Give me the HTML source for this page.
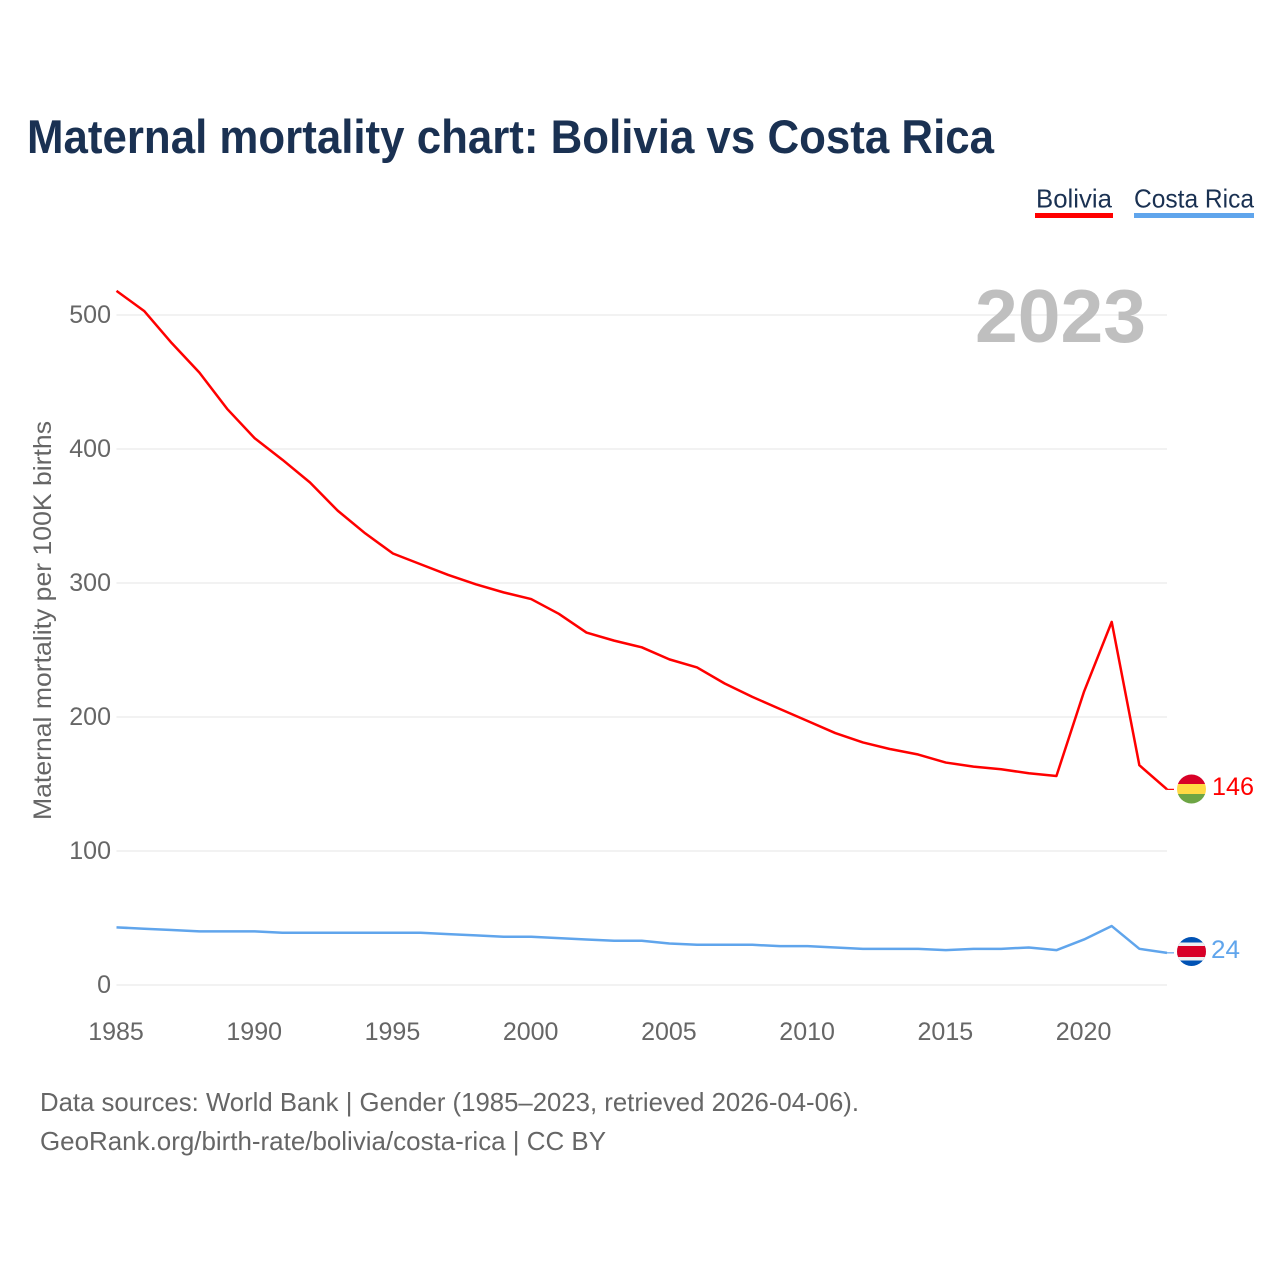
<!DOCTYPE html>
<html lang="en">
<head>
<meta charset="utf-8">
<title>Maternal mortality chart: Bolivia vs Costa Rica</title>
<style>
html,body{margin:0;padding:0;background:#fff;}
svg{display:block;font-family:"Liberation Sans",Arial,sans-serif;}
</style>
</head>
<body>
<svg id="chart" xmlns="http://www.w3.org/2000/svg" width="1280" height="1280" viewBox="0 0 1280 1280">
  <defs>
    <clipPath id="clip-bo"><circle cx="1191.5" cy="789" r="14.5"/></clipPath>
    <clipPath id="clip-cr"><circle cx="1191.5" cy="951.5" r="14.5"/></clipPath>
  </defs>
  <rect width="1280" height="1280" fill="#fff"/>
  <text x="27" y="153" font-size="47" font-weight="700" fill="#1a3152" textLength="967" lengthAdjust="spacingAndGlyphs">Maternal mortality chart: Bolivia vs Costa Rica</text>

  <g>
    <text x="1036" y="207.5" font-size="26" fill="#1a3152" textLength="76" lengthAdjust="spacingAndGlyphs">Bolivia</text>
    <rect x="1035" y="213" width="78" height="5" fill="#ff0000"/>
  </g>
  <g>
    <text x="1134" y="207.5" font-size="26" fill="#1a3152" textLength="120" lengthAdjust="spacingAndGlyphs">Costa Rica</text>
    <rect x="1134" y="213" width="120" height="5" fill="#60a5ec"/>
  </g>

  <g id="grid"></g>
  <text x="975" y="342" font-size="75" font-weight="700" fill="#bfbfbf" textLength="171" lengthAdjust="spacingAndGlyphs">2023</text>
  <g id="y-ticks"></g>
  <g id="x-ticks"></g>
  <text transform="translate(51,820) rotate(-90)" x="0" y="0" font-size="25" fill="#666" textLength="399" lengthAdjust="spacingAndGlyphs">Maternal mortality per 100K births</text>

  <g id="series"></g>

  <g clip-path="url(#clip-bo)">
    <rect x="1177" y="774" width="29" height="10" fill="#d80027"/>
    <rect x="1177" y="784" width="29" height="10" fill="#ffda44"/>
    <rect x="1177" y="794" width="29" height="10" fill="#6da544"/>
  </g>
  <g clip-path="url(#clip-cr)">
    <rect x="1177" y="937" width="29" height="29" fill="#0052b4"/>
    <rect x="1177" y="942.5" width="29" height="18" fill="#f0f0f0"/>
    <rect x="1177" y="946" width="29" height="11" fill="#d80027"/>
  </g>
  <text id="end-bo" x="1212" y="795" font-size="25" fill="#ff0000" textLength="42" lengthAdjust="spacingAndGlyphs"></text>
  <text id="end-cr" x="1211" y="958" font-size="25" fill="#60a5ec" textLength="29" lengthAdjust="spacingAndGlyphs"></text>

  <text x="40" y="1111" font-size="26" fill="#666" textLength="819" lengthAdjust="spacingAndGlyphs">Data sources: World Bank | Gender (1985–2023, retrieved 2026-04-06).</text>
  <text x="40" y="1150" font-size="26" fill="#666" textLength="566" lengthAdjust="spacingAndGlyphs">GeoRank.org/birth-rate/bolivia/costa-rica | CC BY</text>
</svg>
<script>
const years = [1985,1986,1987,1988,1989,1990,1991,1992,1993,1994,1995,1996,1997,1998,1999,2000,2001,2002,2003,2004,2005,2006,2007,2008,2009,2010,2011,2012,2013,2014,2015,2016,2017,2018,2019,2020,2021,2022,2023];
const bolivia = [518,503,479,457,430,408,392,375,354,337,322,314,306,299,293,288,277,263,257,252,243,237,225,215,206,197,188,181,176,172,166,163,161,158,156,219,271,164,146];
const costaRica = [43,42,41,40,40,40,39,39,39,39,39,39,38,37,36,36,35,34,33,33,31,30,30,30,29,29,28,27,27,27,26,27,27,28,26,34,44,27,24];
const yTickValues = [0,100,200,300,400,500];
const xTickValues = [1985,1990,1995,2000,2005,2010,2015,2020];

const NS = 'http://www.w3.org/2000/svg';
const xScale = function (year) { return 116.5 + (year - 1985) * (1167 - 116.5) / (2023 - 1985); };
const yScale = function (value) { return 985 - value * 1.34; };

const gridGroup = document.getElementById('grid');
const yTickGroup = document.getElementById('y-ticks');
const xTickGroup = document.getElementById('x-ticks');
const seriesGroup = document.getElementById('series');

yTickValues.forEach(function (v) {
  const line = document.createElementNS(NS, 'line');
  
  
  line.setAttribute('x1', xScale(1985));
  line.setAttribute('x2', xScale(2023));
  line.setAttribute('y1', yScale(v));
  line.setAttribute('y2', yScale(v));
  line.setAttribute('stroke', '#eeeeee');
  line.setAttribute('stroke-width', '1.5');
  gridGroup.appendChild(line);

  const label = document.createElementNS(NS, 'text');
  
  
  label.setAttribute('x', 111);
  label.setAttribute('y', yScale(v) + 8);
  label.setAttribute('text-anchor', 'end');
  label.setAttribute('font-size', '25');
  label.setAttribute('fill', '#666');
  label.textContent = v;
  yTickGroup.appendChild(label);
});

xTickValues.forEach(function (t) {
  const label = document.createElementNS(NS, 'text');
  
  
  label.setAttribute('x', xScale(t) - 0.5);
  label.setAttribute('y', 1040);
  label.setAttribute('text-anchor', 'middle');
  label.setAttribute('font-size', '25');
  label.setAttribute('fill', '#666');
  label.textContent = t;
  xTickGroup.appendChild(label);
});

function drawSeries(values, color, name) {
  const pts = values.map(function (v, i) { return xScale(years[i]).toFixed(2) + ',' + yScale(v).toFixed(2); });
  const poly = document.createElementNS(NS, 'polyline');
  
  
  poly.setAttribute('points', pts.join(' '));
  poly.setAttribute('fill', 'none');
  poly.setAttribute('stroke', color);
  poly.setAttribute('stroke-width', '2.5');
  poly.setAttribute('stroke-linejoin', 'round');
  seriesGroup.appendChild(poly);

  const last = values[values.length - 1];
  const connector = document.createElementNS(NS, 'line');
  
  
  connector.setAttribute('x1', xScale(years[years.length - 1]));
  connector.setAttribute('x2', xScale(years[years.length - 1]) + 7);
  connector.setAttribute('y1', yScale(last));
  connector.setAttribute('y2', yScale(last));
  connector.setAttribute('stroke', color);
  connector.setAttribute('stroke-width', '1.2');
  seriesGroup.appendChild(connector);
}
drawSeries(costaRica, '#60a5ec', 'line-costa-rica');
drawSeries(bolivia, '#ff0000', 'line-bolivia');

document.getElementById('end-bo').textContent = bolivia[bolivia.length - 1];
document.getElementById('end-cr').textContent = costaRica[costaRica.length - 1];
</script>
</body>
</html>
